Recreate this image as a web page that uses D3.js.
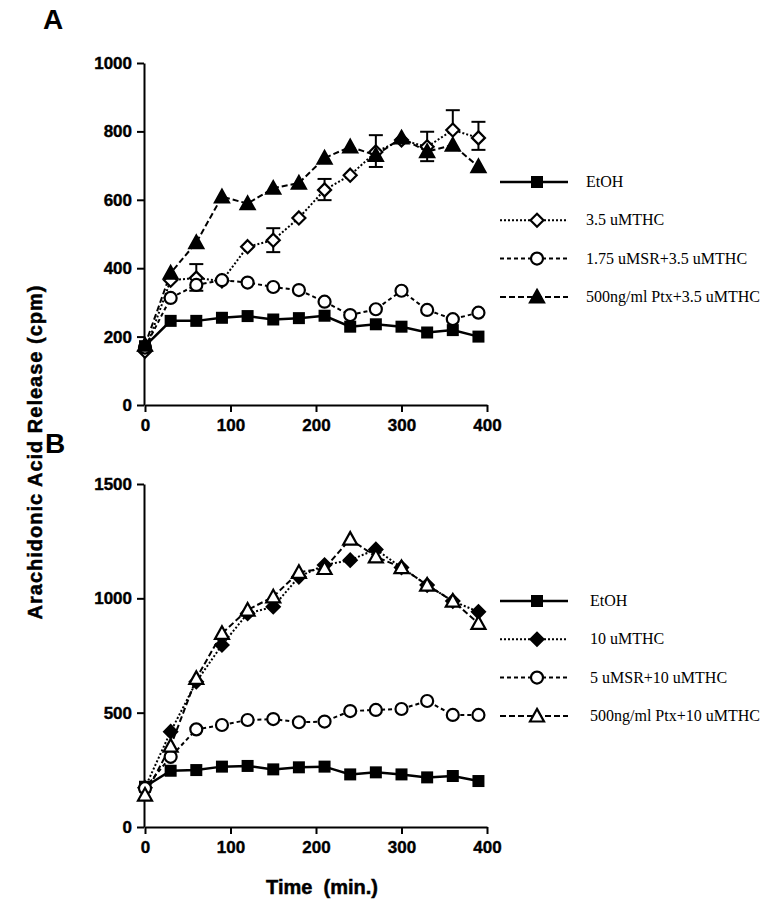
<!DOCTYPE html>
<html><head><meta charset="utf-8">
<script src="https://cdn.jsdelivr.net/npm/d3@7"></script>
<style>body{margin:0;background:#fff}svg{display:block}</style>
</head><body>
<svg id="c" width="768" height="899"></svg>
<script>
const times = [0,30,60,90,120,150,180,210,240,270,300,330,360,390];
const xTicks = [0,100,200,300,400];
const yTicksA = [0,200,400,600,800,1000];
const yTicksB = [0,500,1000,1500];

// Panel A
const etohA = [172,246,246,255,260,250,254,261,229,236,229,212,219,200];
const mthcA = [157,365,371,363,463,482,547,629,672,740,775,755,804,781];
const msrA  = [168,313,351,365,358,345,336,302,263,280,334,278,251,270];
const ptxA  = [175,386,475,609,589,634,649,722,755,730,781,741,760,697];
const errMthcA = [{t:60,hi:412},{t:150,lo:447,hi:517},{t:210,lo:599,hi:661},{t:270,hi:789},{t:330,hi:799},{t:360,hi:862},{t:390,lo:746,hi:828}];
const errMsrA  = [{t:60,lo:334}];
const errPtxA  = [{t:270,lo:696},{t:330,lo:713},{t:360,lo:746}];
const labelsA = ["EtOH","3.5 uMTHC","1.75 uMSR+3.5 uMTHC","500ng/ml Ptx+3.5 uMTHC"];

// Panel B
const etohB = [176,246,249,264,267,252,261,264,230,239,230,217,223,201];
const mthcB = [172,417,635,796,934,963,1094,1146,1167,1214,1135,1058,988,941];
const msrB  = [170,307,427,446,468,472,458,461,507,512,516,551,490,490];
const ptxB  = [140,354,650,847,949,1007,1114,1131,1259,1182,1135,1058,988,891];
const labelsB = ["EtOH","10 uMTHC","5 uMSR+10 uMTHC","500ng/ml Ptx+10 uMTHC"];

const svg = d3.select("#c");
const x = d3.scaleLinear().domain([0,400]).range([145,487]);
const yA = d3.scaleLinear().domain([0,1000]).range([405,63]);
const yB = d3.scaleLinear().domain([0,1500]).range([827,484]);

const styles = {
  solid:{dash:null}, dotted:{dash:"2,2"}, dashed:{dash:"4,3"}, longdash:{dash:"6,3"}
};
const boldFont = "Arial, Liberation Sans, sans-serif";

function marker(g, type, cx, cy){
  if(type==="square"){
    g.append("rect").attr("x",cx-6).attr("y",cy-6).attr("width",12).attr("height",12).attr("fill","#000");
  } else if(type==="diamondOpen"||type==="diamondFill"){
    const s=6.5;
    g.append("path").attr("d",`M${cx},${cy-s}L${cx+s},${cy}L${cx},${cy+s}L${cx-s},${cy}Z`)
      .attr("fill",type==="diamondFill"?"#000":"#fff").attr("stroke","#000").attr("stroke-width",2.2);
  } else if(type==="circle"){
    g.append("circle").attr("cx",cx).attr("cy",cy).attr("r",6).attr("fill","#fff").attr("stroke","#000").attr("stroke-width",2.2);
  } else if(type==="triFill"||type==="triOpen"){
    const s=7;
    g.append("path").attr("d",`M${cx},${cy-s}L${cx+s},${cy+s*0.8}L${cx-s},${cy+s*0.8}Z`)
      .attr("fill",type==="triFill"?"#000":"#fff").attr("stroke","#000").attr("stroke-width",2.2).attr("stroke-linejoin","miter");
  }
}

function styleAxis(a){
  a.select(".domain").attr("stroke-width",2);
  a.selectAll(".tick line").attr("stroke-width",2);
  a.selectAll("text").attr("font-family",boldFont).attr("font-weight","bold").attr("font-size",17)
    .attr("fill","#000").attr("stroke","#000").attr("stroke-width",0.4);
}

function panel(y, yTicks, series, labels, legY, legX){
  const g = svg.append("g");
  g.append("g").attr("transform","translate(144,0)")
    .call(d3.axisLeft(y).tickValues(yTicks).tickFormat(d3.format("d")).tickSize(7).tickPadding(5).tickSizeOuter(0))
    .call(styleAxis);
  g.append("g").attr("transform",`translate(0,${y(0)})`)
    .call(d3.axisBottom(x).tickValues(xTicks).tickFormat(d3.format("d")).tickSize(7).tickPadding(7).tickSizeOuter(0))
    .call(styleAxis);

  series.forEach(s=>{
    (s.err||[]).forEach(e=>{
      const cx=x(e.t), cy=y(s.vals[times.indexOf(e.t)]);
      ["lo","hi"].forEach(k=>{
        if(e[k]===undefined) return;
        const ey=y(e[k]);
        g.append("line").attr("x1",cx).attr("x2",cx).attr("y1",cy).attr("y2",ey).attr("stroke","#000").attr("stroke-width",2);
        g.append("line").attr("x1",cx-7).attr("x2",cx+7).attr("y1",ey).attr("y2",ey).attr("stroke","#000").attr("stroke-width",2);
      });
    });
  });
  series.forEach(s=>{
    const line = d3.line().x((d,i)=>x(times[i])).y(d=>y(d));
    g.append("path").attr("d",line(s.vals)).attr("fill","none").attr("stroke","#000")
      .attr("stroke-width",s.style==="solid"?2.5:2).attr("stroke-dasharray",styles[s.style].dash);
  });
  series.forEach(s=>{
    s.vals.forEach((v,i)=>marker(g,s.marker,x(times[i]),y(v)));
  });
  series.forEach((s,i)=>{
    const ly = legY + i*38.3;
    g.append("line").attr("x1",500).attr("x2",568).attr("y1",ly).attr("y2",ly).attr("stroke","#000")
      .attr("stroke-width",s.style==="solid"?2.5:2).attr("stroke-dasharray",styles[s.style].dash);
    marker(g,s.marker,537,ly);
    g.append("text").attr("x",legX).attr("y",ly+5).text(labels[i])
      .attr("font-family","Times New Roman, Liberation Serif, serif").attr("font-size",16).attr("fill","#000");
  });
}

panel(yA, yTicksA, [
  {vals:etohA, style:"solid", marker:"square"},
  {vals:mthcA, style:"dotted", marker:"diamondOpen", err:errMthcA},
  {vals:msrA, style:"dashed", marker:"circle", err:errMsrA},
  {vals:ptxA, style:"longdash", marker:"triFill", err:errPtxA}
], labelsA, 182, 586);

panel(yB, yTicksB, [
  {vals:etohB, style:"solid", marker:"square"},
  {vals:mthcB, style:"dotted", marker:"diamondFill"},
  {vals:msrB, style:"dashed", marker:"circle"},
  {vals:ptxB, style:"longdash", marker:"triOpen"}
], labelsB, 601, 590);

svg.append("text").attr("x",43).attr("y",29).text("A").attr("font-family",boldFont).attr("font-weight","bold").attr("font-size",28);
svg.append("text").attr("x",45).attr("y",453).text("B").attr("font-family",boldFont).attr("font-weight","bold").attr("font-size",28);
svg.append("text").attr("transform","translate(42,452) rotate(-90)").attr("text-anchor","middle")
  .text("Arachidonic Acid Release (cpm)").attr("font-family",boldFont).attr("font-weight","bold").attr("font-size",20)
  .attr("letter-spacing",1).attr("stroke","#000").attr("stroke-width",0.5);
svg.append("text").attr("x",322).attr("y",894).attr("text-anchor","middle").attr("xml:space","preserve")
  .text("Time  (min.)").attr("font-family",boldFont).attr("font-weight","bold").attr("font-size",20)
  .attr("stroke","#000").attr("stroke-width",0.5);
</script>
</body></html>
